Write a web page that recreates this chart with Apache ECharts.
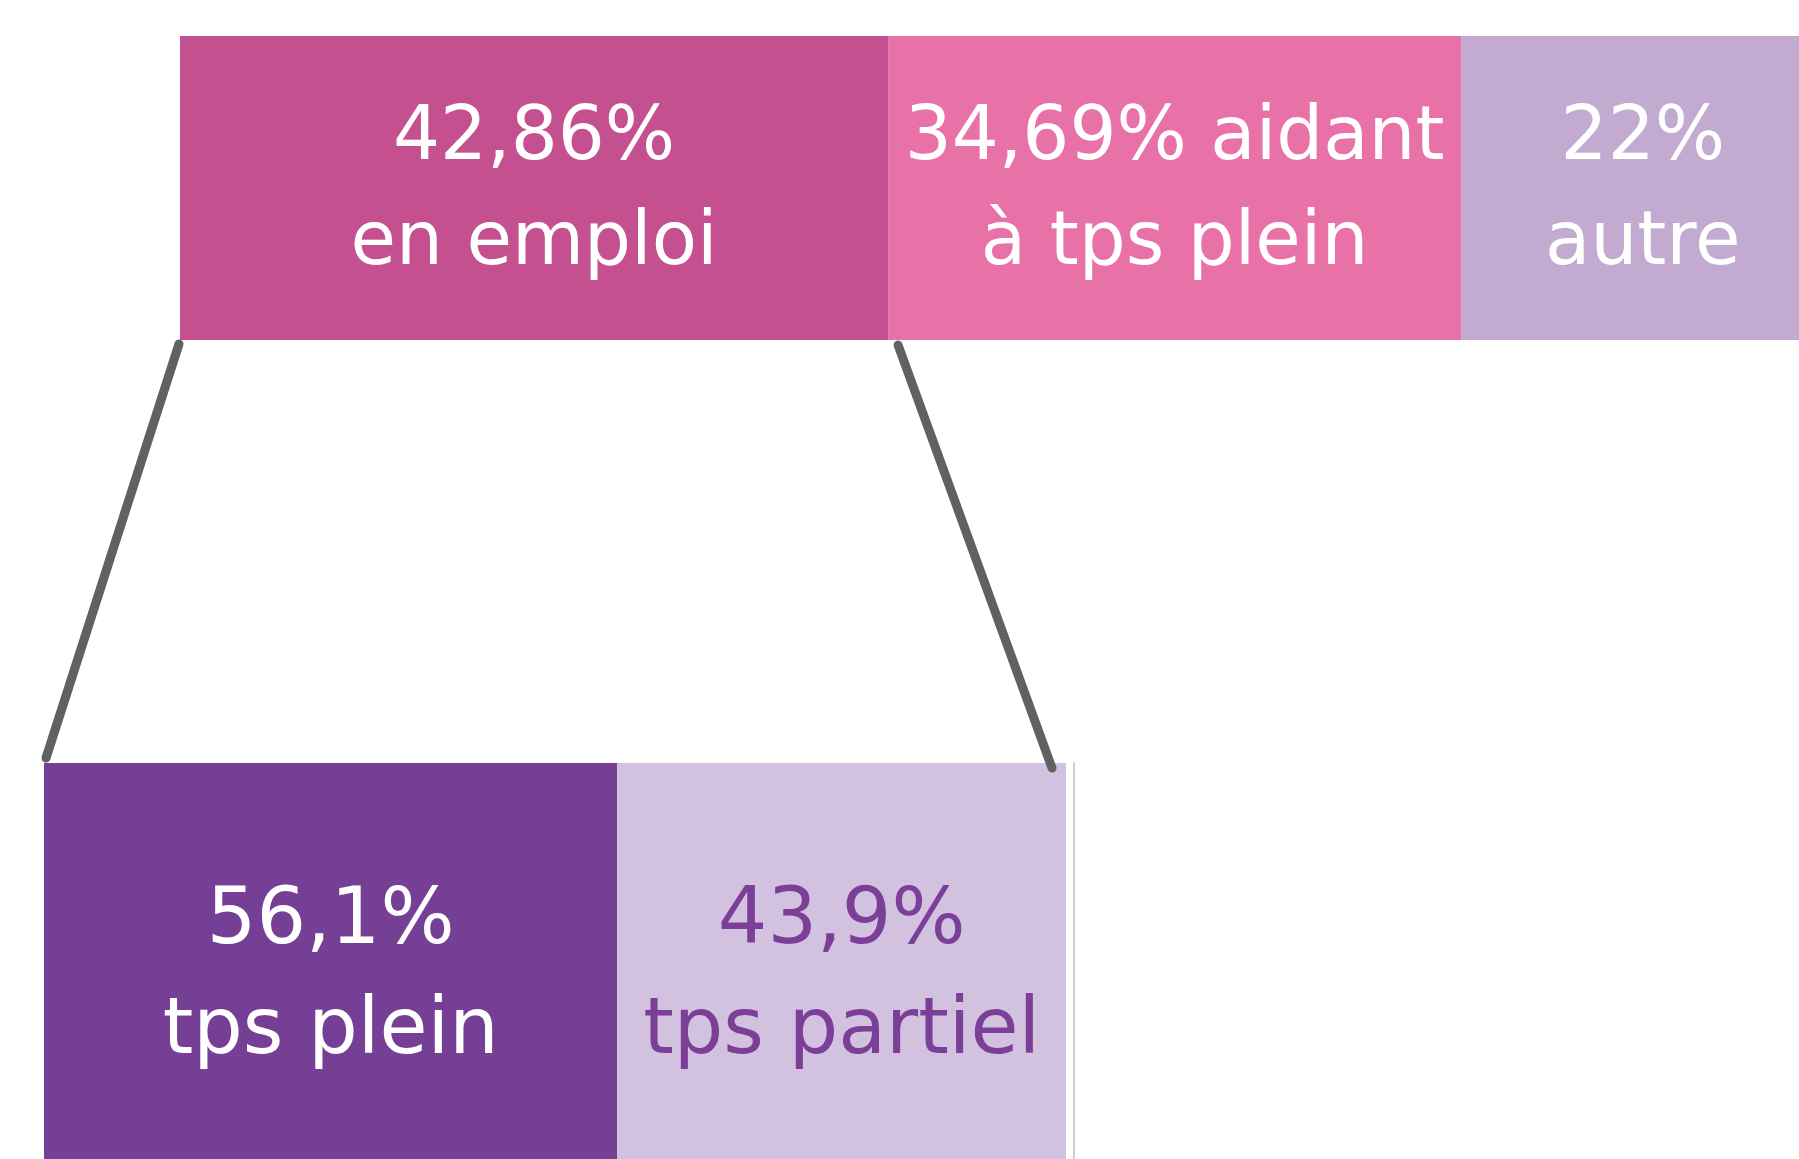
<!DOCTYPE html>
<html>
<head>
<meta charset="utf-8">
<script src="https://cdn.jsdelivr.net/npm/echarts@6/dist/echarts.min.js"></script>
<style>
  html, body { margin: 0; padding: 0; background: #fff; }
  #main { width: 1799px; height: 1159px; }
</style>
</head>
<body>
<div id="main"></div>
<script>
// top bar: situation of the carers
var topNames = ['en emploi', 'aidant à tps plein', 'autre'];
var topValues = [42.86, 34.69, 22];
var topLabels = ['42,86%\nen emploi', '34,69% aidant\nà tps plein', '22%\nautre'];
var topColors = ['#c4508f', '#e872a8', '#c2aad0'];

// bottom bar: zoom on "en emploi"
var bottomNames = ['tps plein', 'tps partiel'];
var bottomValues = [56.1, 43.9];
var bottomLabels = ['56,1%\ntps plein', '43,9%\ntps partiel'];
var bottomColors = ['#763f96', '#d2c2df'];
var bottomTextColors = ['#ffffff', '#7b3f98'];

var FONT = '"DejaVu Sans", sans-serif';

var myChart = echarts.init(document.getElementById('main'));

var series = [];
topValues.forEach(function (v, i) {
    series.push({
        name: topNames[i],
        type: 'bar',
        stack: 'top',
        xAxisIndex: 0,
        yAxisIndex: 0,
        barWidth: '100%',
        data: [v],
        itemStyle: { color: topColors[i] },
        label: {
            show: true,
            position: 'inside',
            offset: [0, 4],
            formatter: topLabels[i],
            color: '#fff',
            fontFamily: FONT,
            fontSize: 74,
            lineHeight: 105
        },
        silent: true
    });
});
bottomValues.forEach(function (v, i) {
    series.push({
        name: bottomNames[i],
        type: 'bar',
        stack: 'bottom',
        xAxisIndex: 1,
        yAxisIndex: 1,
        barWidth: '100%',
        data: [v],
        itemStyle: { color: bottomColors[i] },
        label: {
            show: true,
            position: 'inside',
            formatter: bottomLabels[i],
            color: bottomTextColors[i],
            fontFamily: FONT,
            fontSize: 78,
            lineHeight: 110
        },
        silent: true
    });
});

var option = {
    backgroundColor: '#fff',
    animation: false,
    grid: [
        { left: 180, top: 36, width: 1652, height: 304, outerBoundsMode: 'none', containLabel: false },
        { left: 44, top: 763, width: 1022, height: 430, outerBoundsMode: 'none', containLabel: false }
    ],
    xAxis: [
        { gridIndex: 0, type: 'value', min: 0, max: 100, show: false },
        { gridIndex: 1, type: 'value', min: 0, max: 100, show: false }
    ],
    yAxis: [
        { gridIndex: 0, type: 'category', data: ['total'], show: false },
        {
            gridIndex: 1, type: 'category', data: ['en emploi'],
            position: 'right', offset: 8,
            axisLine: { show: true, onZero: false, lineStyle: { color: '#cfcfcf', width: 2 } },
            axisTick: { show: false },
            axisLabel: { show: false },
            splitLine: { show: false }
        }
    ],
    series: series
};
myChart.setOption(option);

// connector lines from the "en emploi" segment down to the detail bar
var topL = myChart.convertToPixel({ gridIndex: 0 }, [0, 0]);
var topR = myChart.convertToPixel({ gridIndex: 0 }, [topValues[0], 0]);
var botL = myChart.convertToPixel({ gridIndex: 1 }, [0, 0]);
var botR = myChart.convertToPixel({ gridIndex: 1 }, [100, 0]);
var topBarBottom = 36 + 304;
var botBarTop = 763;
var linkStyle = { stroke: '#5e6261', lineWidth: 9, lineCap: 'round' };
myChart.setOption({
    graphic: [
        { type: 'line', z: 100, shape: { x1: topL[0] - 1, y1: topBarBottom + 4, x2: botL[0] + 2, y2: botBarTop - 5 }, style: linkStyle },
        { type: 'line', z: 100, shape: { x1: topR[0] + 10, y1: topBarBottom + 5, x2: botR[0] - 14, y2: botBarTop + 5 }, style: linkStyle }
    ]
});
</script>
</body>
</html>
